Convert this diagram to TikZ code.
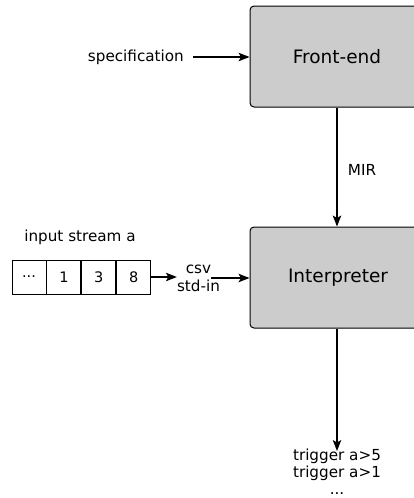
\documentclass[tikz,border=0pt]{standalone}
\usepackage{fontspec}
\setmainfont{DejaVu Sans}
\usetikzlibrary{arrows.meta}
\tikzset{
  blk/.style={draw=black, line width=1pt, fill=black!20, rounded corners=4pt, inner sep=0pt},
  lbl/.style={font=\fontsize{15.2}{17}\selectfont, inner sep=0pt},
  cell/.style={draw=black, line width=0.9pt, minimum width=34pt, minimum height=34pt, inner sep=0pt, font=\fontsize{14.5}{17}\selectfont},
  conn/.style={line width=1.1pt, -{Stealth[length=11pt,width=8.5pt,inset=2.5pt]}},
}
\begin{document}
\begin{tikzpicture}[x=1pt,y=-1pt]
\useasboundingbox (0,0) rectangle (414,498);
\begin{scope}
\clip (0,0) rectangle (414,498);
\node[blk, minimum width=174pt, minimum height=101pt] (fe) at (337,56.5) {};
\node[blk, minimum width=174pt, minimum height=101pt] (ip) at (337,277.5) {};
\end{scope}
\node[font=\fontsize{18.5}{22}\selectfont] (fet) at (337,56.5) {Front-end};
\node[font=\fontsize{18.5}{22}\selectfont] (ipt) at (338,277.5) {Interpreter};
\node[lbl, anchor=east, inner xsep=9pt] (spec) at (193,57) {specification};
\node[lbl] (mir) at (362,170) {MIR};
\node[lbl] (isa) at (80,237) {input stream a};
\node[cell] (c1) at (29,277) {...};
\node[cell, anchor=west] (c2) at (c1.east) {1};
\node[cell, anchor=west] (c3) at (c2.east) {3};
\node[cell, anchor=west] (c4) at (c3.east) {8};
\node[lbl, align=center, font=\fontsize{15.2}{18}\selectfont] (csv) at (198.5,278) {csv\\std-in};
\node[lbl, align=center, anchor=north, font=\fontsize{15.2}{17}\selectfont] (trig) at (337,449) {trigger a>5\\trigger a>1\\...};
\draw[conn] (spec.east) -- (spec.east -| fe.west);
\draw[conn] (fe.south) -- (ip.north);
\draw[conn] (c4.east) -- (csv.west |- c4.east);
\draw[conn] ([xshift=-9pt]csv.east) -- (csv.east -| ip.west);
\draw[conn] (ip.south) -- ([yshift=-2pt]trig.north);
\end{tikzpicture}
\end{document}
